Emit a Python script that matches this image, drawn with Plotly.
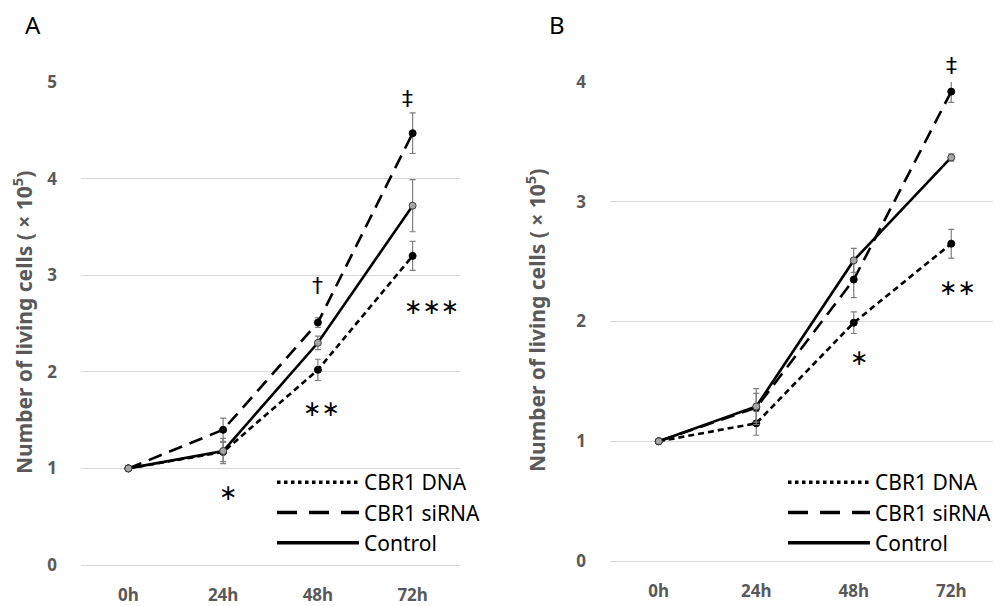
import plotly.graph_objects as go

OFF = 8  # page body margin
W, H = 1001 - OFF, 606 - OFF

categories = ["0h", "24h", "48h", "72h"]
y_title = "Number of living cells ( × 10<sup>5</sup>)"

# Panel A
a_dna = [1.0, 1.17, 2.02, 3.20]
a_dna_err = [0.0, 0.10, 0.11, 0.15]
a_sirna = [1.0, 1.40, 2.51, 4.47]
a_sirna_err = [0.0, 0.12, 0.05, 0.21]
a_ctrl = [1.0, 1.18, 2.30, 3.72]
a_ctrl_err = [0.0, 0.13, 0.07, 0.27]
a_ymax = 5
a_ticks = [0, 1, 2, 3, 4, 5]
# (category, y value, symbol, x shift px)
a_marks = [("24h", 0.75, "∗", 5), ("48h", 1.62, "∗∗", 4), ("48h", 2.89, "†", 0),
           ("72h", 4.83, "‡", -5), ("72h", 2.68, "∗∗∗", 19)]

# Panel B
b_dna = [1.0, 1.15, 1.99, 2.65]
b_dna_err = [0.0, 0.10, 0.09, 0.12]
b_sirna = [1.0, 1.28, 2.35, 3.92]
b_sirna_err = [0.0, 0.12, 0.15, 0.09]
b_ctrl = [1.0, 1.29, 2.51, 3.37]
b_ctrl_err = [0.0, 0.15, 0.10, 0.03]
b_ymax = 4
b_ticks = [0, 1, 2, 3, 4]
b_marks = [("48h", 1.70, "∗", 5), ("72h", 2.28, "∗∗", 6), ("72h", 4.14, "‡", 0)]

series_names = ["CBR1 DNA", "CBR1 siRNA", "Control"]
legend_dashes = ["dot", "20px,12px", "solid"]

FONT = "Noto Sans"
AXIS_GREY = "#595959"
GRID = "#d9d9d9"
ERR = "#7f7f7f"

fig = go.Figure()

def add_panel(xa, ya, legend, dna, dna_e, sir, sir_e, ctl, ctl_e):
    styles = [
        (dna, dna_e, "6px,4px", "black", "black"),
        (sir, sir_e, "14px,8px", "black", "black"),
        (ctl, ctl_e, "solid", "#a6a6a6", "#404040"),
    ]
    for name, (vals, errs, dash, mfill, mline) in zip(series_names, styles):
        fig.add_trace(go.Scatter(
            x=categories, y=vals, name=name, mode="lines+markers",
            line=dict(color="black", width=2.6, dash=dash),
            marker=dict(size=7, color=mfill, line=dict(color=mline, width=1)),
            error_y=dict(type="data", array=errs, color=ERR, thickness=1.2, width=3),
            xaxis=xa, yaxis=ya, showlegend=False,
        ))
    # legend entries (line style keys only)
    for name, dash in zip(series_names, legend_dashes):
        fig.add_trace(go.Scatter(
            x=[None], y=[None], name=name, mode="lines",
            line=dict(color="black", width=3.5, dash=dash),
            xaxis=xa, yaxis=ya, legend=legend, showlegend=True,
        ))

add_panel("x", "y", "legend", a_dna, a_dna_err, a_sirna, a_sirna_err, a_ctrl, a_ctrl_err)
add_panel("x2", "y2", "legend2", b_dna, b_dna_err, b_sirna, b_sirna_err, b_ctrl, b_ctrl_err)

def px_x(p):
    return (p - OFF) / W

def px_y(p):
    return 1 - (p - OFF) / H

axis_font = dict(family=FONT, size=17, color=AXIS_GREY, weight="bold")

xcommon = dict(type="category", categoryorder="array", categoryarray=categories,
               range=[-0.5, 3.5], showgrid=False, zeroline=False, showline=False,
               ticks="", tickfont=axis_font, ticklabelstandoff=18, fixedrange=True,
               automargin=False)
ycommon = dict(showgrid=True, gridcolor=GRID, gridwidth=1, zeroline=True,
               zerolinecolor=GRID, zerolinewidth=1, showline=False, ticks="",
               tickfont=axis_font, ticklabelstandoff=23, fixedrange=True,
               automargin=False)

legend_common = dict(xanchor="left", yanchor="top", bgcolor="rgba(0,0,0,0)",
                     font=dict(family=FONT, size=21, color="black"),
                     tracegroupgap=0, itemwidth=82, traceorder="normal")

a_dom = [px_y(565), px_y(82)]
b_dom = [px_y(561), px_y(82)]

fig.update_layout(
    width=W, height=H,
    margin=dict(l=0, r=0, t=0, b=0, autoexpand=False),
    paper_bgcolor="white", plot_bgcolor="white",
    font=dict(family=FONT, color="black"),
    xaxis=dict(domain=[px_x(81), px_x(460)], anchor="y", **xcommon),
    yaxis=dict(domain=a_dom, anchor="x", range=[0, a_ymax],
               tickvals=a_ticks, **ycommon),
    xaxis2=dict(domain=[px_x(610), px_x(1000)], anchor="y2", **xcommon),
    yaxis2=dict(domain=b_dom, anchor="x2", range=[0, b_ymax],
                tickvals=b_ticks, **ycommon),
    legend=dict(x=px_x(272), y=px_y(462), **legend_common),
    legend2=dict(x=px_x(783), y=px_y(462), **legend_common),
    showlegend=True,
)

annotations = []
for xref, yref, marks, dom, ymax in (("x", "y", a_marks, a_dom, a_ymax),
                                      ("x2", "y2", b_marks, b_dom, b_ymax)):
    for cat, yv, txt, shift in marks:
        ann = dict(x=cat, xref=xref, text=txt, showarrow=False, xshift=shift,
                   xanchor="center", yanchor="middle",
                   font=dict(family="DejaVu Sans", size=22, color="black"))
        if yv > ymax:
            # above the axis range: place via the axis domain so it stays visible
            ann.update(yref="paper", y=dom[0] + (dom[1] - dom[0]) * yv / ymax)
        else:
            ann.update(yref=yref, y=yv)
        annotations.append(ann)

# y-axis titles
for xp, yp in ((22, 323), (535, 321)):
    annotations.append(dict(x=px_x(xp), y=px_y(yp), xref="paper", yref="paper",
                            xanchor="center", yanchor="middle",
                            text=y_title, textangle=-90, showarrow=False,
                            font=dict(family=FONT, size=21, color=AXIS_GREY, weight="bold")))
# panel letters
for xp, letter in ((33, "A"), (557, "B")):
    annotations.append(dict(x=px_x(xp), y=1, xref="paper", yref="paper",
                            xanchor="center", yanchor="top", text=letter, yshift=2,
                            showarrow=False, font=dict(family=FONT, size=24, color="black")))

fig.update_layout(annotations=annotations)

fig.write_html("out.html")
